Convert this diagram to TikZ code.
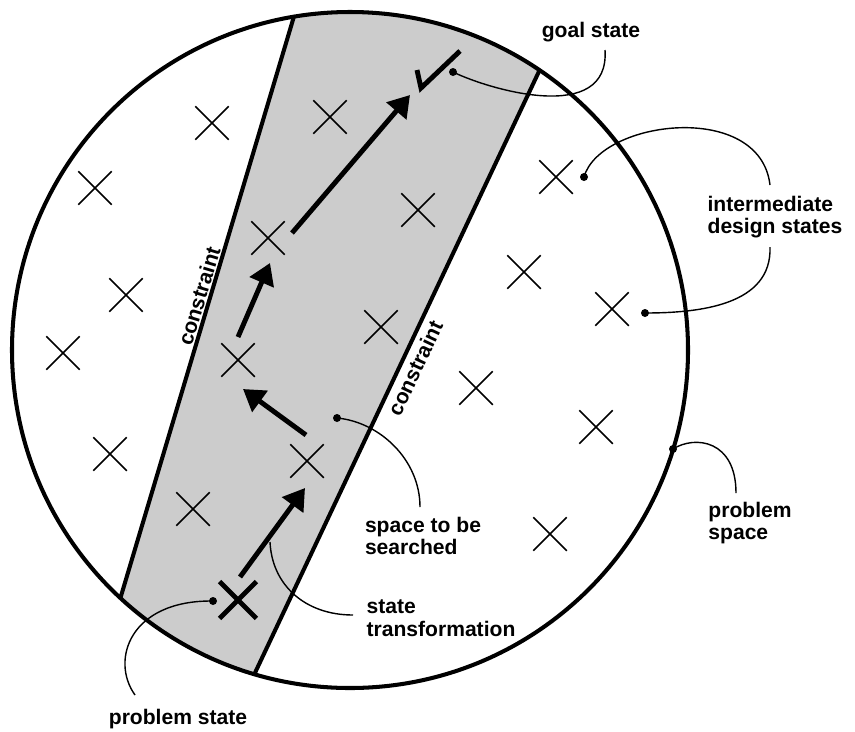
\documentclass[tikz,border=0pt]{standalone}
\usepackage{fontspec}
\setmainfont{Liberation Sans}
\usepackage{tikz}
\usetikzlibrary{arrows.meta}
\usetikzlibrary{shapes.misc}
\definecolor{bandgray}{rgb}{0.8,0.8,0.8}
\tikzset{
  dstate/.style={draw,cross out,line width=0.85pt,minimum size=0.64cm,inner sep=0pt},
  startstate/.style={dstate,line width=2.8pt},
  move/.style={line width=2.8pt,-{Triangle[length=12pt,width=14.5pt]}},
  border/.style={line width=2.3pt},
  callout/.style={line width=0.8pt},
  lbl/.style={font=\fontsize{12}{12.8}\selectfont\bfseries,align=left,inner sep=0pt},
}
\newcommand{\designstate}[3]{\node[dstate] (#1) at (#2,#3) {};}
\newcommand{\calloutdot}[1]{\fill (#1) circle (4);}

\begin{document}
\begin{tikzpicture}[x=0.02cm,y=-0.02cm]
  \useasboundingbox (0,0) rectangle (855,731);

  \begin{scope}
    \clip (350,350) circle (338);
    \fill[bandgray] (104,653) -- (312,-44) -- (568,10) -- (228,730) -- cycle;
    \draw[border] (104,653) -- (312,-44);
    \draw[border] (568,10) -- (228,730);
  \end{scope}
  \draw[border] (350,350) circle (338);

  \node[lbl,rotate=73.3] (cleft) at (199,296) {constraint};
  \node[lbl,rotate=64.7] (cright) at (415,368) {constraint};

  \designstate{s1}{212}{123}
  \designstate{s2}{330}{117}
  \designstate{s3}{95}{188}
  \designstate{s4}{418}{210}
  \designstate{s5}{556}{177}
  \designstate{s6}{268}{238}
  \designstate{s7}{126}{295}
  \designstate{s8}{524}{272}
  \designstate{s9}{612}{309}
  \designstate{s10}{381}{327}
  \designstate{s11}{63}{353}
  \designstate{s12}{238}{360}
  \designstate{s13}{476}{388}
  \designstate{s14}{110}{454}
  \designstate{s15}{307}{461}
  \designstate{s16}{596}{427}
  \designstate{s17}{193}{509}
  \designstate{s18}{550}{534}
  \node[startstate] (start) at (238,600) {};

  \coordinate (goal) at (421,88);
  \draw[line width=2.8pt] (417,70) -- (goal) -- (460,51);

  \coordinate (m1a) at (240,577); \coordinate (m1b) at (305,488);
  \coordinate (m2a) at (306,435); \coordinate (m2b) at (243,389);
  \coordinate (m3a) at (238,337); \coordinate (m3b) at (270,263);
  \coordinate (m4a) at (292,233); \coordinate (m4b) at (410,95);
  \draw[move] (m1a) -- (m1b);
  \draw[move] (m2a) -- (m2b);
  \draw[move] (m3a) -- (m3b);
  \draw[move] (m4a) -- (m4b);

  \node[lbl] (goallbl) at (591,32) {goal state};
  \node[lbl] (interlbl) at (775,217) {intermediate\\design states};
  \node[lbl] (spacelbl) at (750,523) {problem\\space};
  \node[lbl] (searchlbl) at (423,536) {space to be\\searched};
  \node[lbl] (translbl) at (441,618) {state\\transformation};
  \node[lbl] (startlbl) at (178,719) {problem state};

  \coordinate (goaldot) at (453,72);   \coordinate (goalend) at (605,50);
  \coordinate (interdot1) at (584,177); \coordinate (interend1) at (770,185);
  \coordinate (interdot2) at (645,313); \coordinate (interend2) at (770,247);
  \coordinate (spacedot) at (673,449); \coordinate (spaceend) at (736,493);
  \coordinate (searchdot) at (337,418); \coordinate (searchend) at (420,507);
  \coordinate (transpt) at (270,542);  \coordinate (transend) at (353,615);
  \coordinate (startdot) at (213,601); \coordinate (startend) at (135,695);

  \draw[callout] (goaldot) .. controls (490,90) and (610,125) .. (goalend);
  \draw[callout] (interdot1) .. controls (600,120) and (760,100) .. (interend1);
  \draw[callout] (interend2) .. controls (772,305) and (700,313) .. (interdot2);
  \draw[callout] (spacedot) .. controls (695,435) and (736,440) .. (spaceend);
  \draw[callout] (searchdot) .. controls (380,422) and (420,460) .. (searchend);
  \draw[callout] (transpt) .. controls (272,585) and (305,615) .. (transend);
  \draw[callout] (startdot) .. controls (130,600) and (110,660) .. (startend);
  \calloutdot{goaldot}
  \calloutdot{interdot1}
  \calloutdot{interdot2}
  \calloutdot{spacedot}
  \calloutdot{searchdot}
  \calloutdot{startdot}
\end{tikzpicture}
\end{document}
